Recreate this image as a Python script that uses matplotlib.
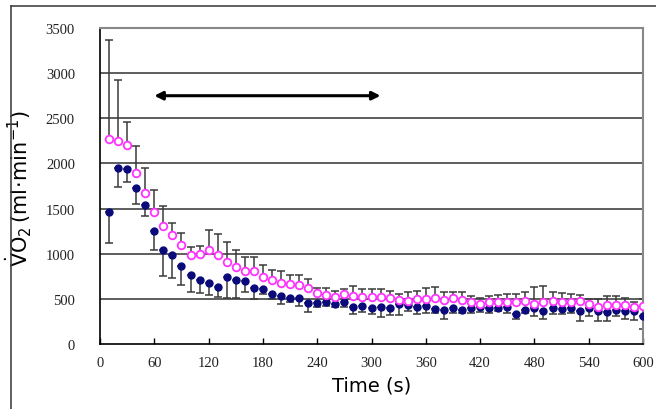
import numpy as np
import matplotlib
matplotlib.use("Agg")
import matplotlib.pyplot as plt
from matplotlib.lines import Line2D

plt.rcParams['mathtext.fontset'] = 'dejavusans'

# time points (s)
time_s = list(range(10, 610, 10))

# pink open circles (mean and upward SD)
pink_mean = [2271, 2249, 2205, 1895, 1673, 1459, 1304, 1204, 1100, 986,
             997, 1045, 986, 905, 857, 812, 805, 742, 709, 672,
             661, 654, 617, 569, 546, 524, 554, 532, 524, 524,
             524, 510, 491, 480, 499, 499, 513, 491, 513, 491,
             462, 443, 462, 462, 469, 462, 480, 443, 469, 480,
             469, 469, 476, 443, 413, 432, 432, 432, 406, 424]
pink_sd = [1094, 676, 251, 295, 277, 247, 228, 137, 126, 85,
           89, 218, 229, 222, 184, 155, 162, 137, 111, 133,
           104, 111, 103, 48, 71, 67, 55, 107, 85, 85,
           85, 81, 63, 93, 92, 118, 115, 89, 67, 89,
           73, 63, 70, 80, 85, 92, 100, 185, 170, 100,
           100, 85, 70, 56, 90, 100, 100, 80, 56, 75]

# navy filled circles (mean and downward SD)
navy_mean = [1459, 1950, 1939, 1732, 1540, 1252, 1041, 986, 868, 765,
             709, 676, 628, 746, 706, 702, 617, 609, 557, 535,
             506, 513, 454, 454, 469, 443, 469, 413, 424, 402,
             413, 399, 443, 435, 413, 424, 388, 377, 402, 377,
             402, 406, 399, 399, 406, 329, 377, 399, 366, 399,
             388, 402, 366, 395, 362, 351, 377, 366, 362, 307]
navy_sd = [340, 207, 141, 181, 125, 207, 284, 258, 214, 192,
           147, 130, 107, 240, 200, 129, 118, 55, 58, 92,
           44, 96, 96, 48, 45, 37, 56, 81, 66, 70,
           118, 78, 122, 66, 81, 81, 45, 100, 59, 34,
           59, 55, 56, 30, 63, 52, 34, 92, 89, 67,
           56, 59, 108, 81, 104, 93, 63, 89, 96, 140]

x_ticks = list(range(0, 660, 60))
y_ticks = list(range(0, 4000, 500))
arrow_span = (60, 310)
arrow_level = 2750

fig = plt.figure(figsize=(6.56, 4.10), dpi=100)
ax = fig.add_axes([100 / 656, 65 / 410, 543 / 656, 316 / 410])

zeros = [0] * len(time_s)
ax.errorbar(time_s, pink_mean, yerr=[zeros, pink_sd], fmt='none',
            ecolor='#3a3a3a', elinewidth=1.1, capsize=3, capthick=1.1, zorder=2)
ax.errorbar(time_s, navy_mean, yerr=[navy_sd, zeros], fmt='none',
            ecolor='#3a3a3a', elinewidth=1.1, capsize=3, capthick=1.1, zorder=2)
ax.plot(time_s, navy_mean, 'o', color='#0a0a7a', markersize=5, zorder=3)
ax.plot(time_s, pink_mean, 'o', markerfacecolor='white', markeredgecolor='#ff33ff',
        markeredgewidth=1.3, markersize=5.5, zorder=4)

ax.annotate('', xy=(arrow_span[0], arrow_level), xytext=(arrow_span[1], arrow_level),
            arrowprops=dict(arrowstyle='<|-|>', color='black', lw=2.2,
                            mutation_scale=12, shrinkA=0, shrinkB=0))

ax.set_xlim(0, 600)
ax.set_ylim(0, 3500)
ax.set_xticks(x_ticks)
ax.set_yticks(y_ticks)
for y in y_ticks[1:-1]:
    ax.axhline(y, color='#505050', lw=1.3, zorder=1)

ax.tick_params(axis='x', direction='in', length=4, width=1, pad=9, labelsize=10.5)
ax.tick_params(axis='y', length=0, pad=18, labelsize=10.5)
for lab in ax.get_xticklabels() + ax.get_yticklabels():
    lab.set_fontfamily('Liberation Serif')
    lab.set_color('#222222')

for side in ['left', 'bottom']:
    ax.spines[side].set_color('black')
    ax.spines[side].set_linewidth(1.2)
for side in ['top', 'right']:
    ax.spines[side].set_color('#888888')
    ax.spines[side].set_linewidth(1.5)

ax.set_xlabel('Time (s)', fontsize=14, labelpad=4)
ax.set_ylabel(r'$\dot{\mathsf{V}}\mathsf{O}_2\,(\mathsf{ml}\!\cdot\!\mathsf{min}^{-1})$',
              fontsize=15)
ax.yaxis.set_label_coords(-0.122, 0.495)

# outer frame (left and top edges)
fig.add_artist(Line2D([11 / 656, 11 / 656], [0, 1 - 7 / 410], color='#444444', lw=1.2))
fig.add_artist(Line2D([11 / 656, 1], [1 - 7 / 410, 1 - 7 / 410], color='#444444', lw=1.2))

fig.savefig('out.png', dpi=100)
